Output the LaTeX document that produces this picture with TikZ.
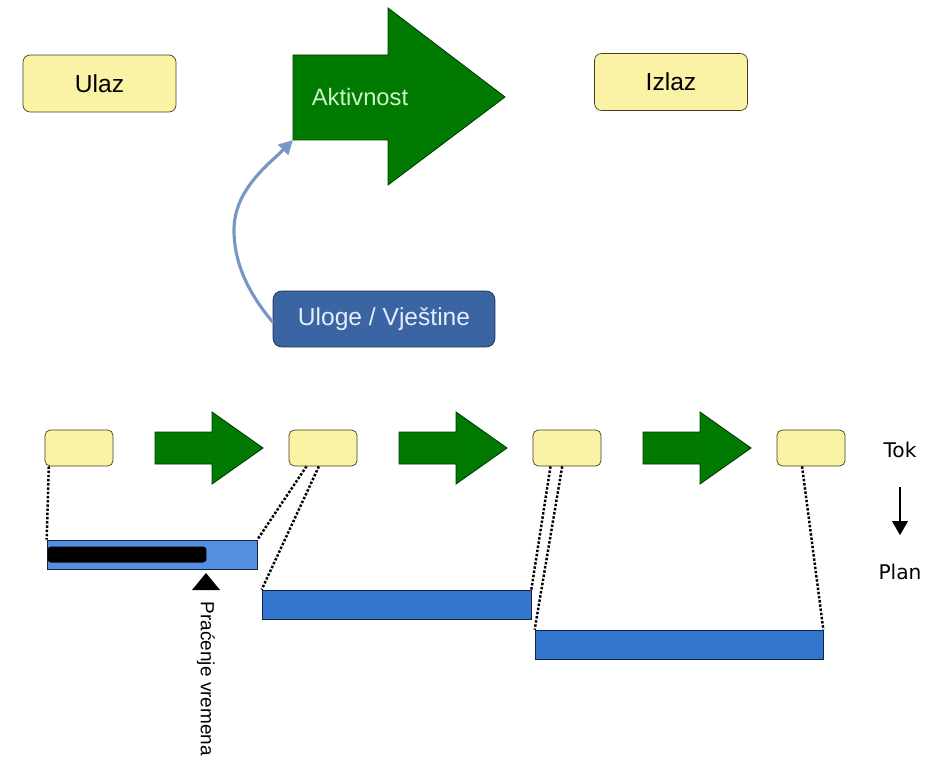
\documentclass[tikz,border=0pt]{standalone}
\usepackage{fontspec}
\setmainfont{Liberation Sans}
\newfontfamily\verdfont{DejaVu Sans}
\usetikzlibrary{arrows.meta,calc}

\definecolor{boxyellow}{RGB}{250,242,165}
\definecolor{boxedge}{RGB}{70,60,30}
\definecolor{actgreen}{RGB}{0,122,0}
\definecolor{actedge}{RGB}{0,60,0}
\definecolor{acttext}{RGB}{205,245,200}
\definecolor{roleblue}{RGB}{58,100,162}
\definecolor{roleedge}{RGB}{25,45,80}
\definecolor{roletext}{RGB}{228,238,252}
\definecolor{curveblue}{RGB}{120,152,195}
\definecolor{planlight}{RGB}{85,142,222}
\definecolor{planblue}{RGB}{50,117,205}
\definecolor{planedge}{RGB}{20,35,70}

\tikzset{
  bigbox/.style={draw=boxedge, fill=boxyellow, rounded corners=4pt, minimum width=3.06cm, minimum height=1.14cm, font=\fontsize{14}{16}\selectfont},
  smallbox/.style={draw=boxedge, fill=boxyellow, rounded corners=3pt, minimum width=1.36cm, minimum height=0.72cm},
  rolebox/.style={draw=roleedge, fill=roleblue, text=roletext, rounded corners=5pt, minimum width=4.44cm, minimum height=1.12cm, font=\fontsize{14}{16}\selectfont},
  flow/.style={fill=actgreen, draw=actedge, line width=0.5pt},
  planbar/.style={draw=planedge, fill=planblue, minimum height=0.58cm, inner sep=0pt},
  link/.style={densely dotted, line width=1.4pt},
  sidetext/.style={font=\verdfont\fontsize{11.5}{13}\selectfont},
}

\begin{document}
\begin{tikzpicture}[x=0.02cm, y=-0.02cm]
    \useasboundingbox (0,0) rectangle (932,760);

    % top part
    \node[bigbox] (ulaz) at (99.5,83.5) {Ulaz};
    \node[bigbox] (izlaz) at (671,82) {Izlaz};

    \draw[flow] (293,55) -- (388,55) -- (388,8) -- (505,97) -- (388,185) -- (388,140) -- (293,140) -- cycle;
    \coordinate (aktin) at (293,140);
    \node[text=acttext, font=\fontsize{13.5}{16}\selectfont] (akt) at (360,97) {Aktivnost};

    \node[rolebox] (uloge) at (384,319) {Uloge / Vještine};
    \draw[curveblue, line width=1.8pt, -{Triangle[length=8pt,width=8pt]}]
        ($(uloge.west)+(0,3)$) .. controls (250,295) and (234,265) .. (234,230)
        .. controls (234,190) and (268,165) .. (aktin);

    % flow row
    \foreach \i in {0,...,3}
        \node[smallbox] (b\i) at ({79+244*\i},448) {};
    \foreach \i in {0,1,2}
        \draw[flow] ({155+244*\i},432) -- ++(57,0) -- ++(0,-20) -- ++(51,36) -- ++(-51,36) -- ++(0,-20) -- ++(-57,0) -- cycle;

    % plan bars
    \node[planbar, fill=planlight, minimum width=4.2cm] (bar1) at (152,554.5) {};
    \node[planbar, minimum width=5.38cm] (bar2) at (396.5,604.5) {};
    \node[planbar, minimum width=5.76cm] (bar3) at (679,644.5) {};

    \node[fill=black, rounded corners=2pt, minimum width=3.18cm, minimum height=0.32cm, inner sep=0pt, anchor=west] (done) at ($(bar1.west)+(0.5,0)$) {};

    \foreach \src/\pos/\dst in {b0/0.06/bar1.north west, b1/0.26/bar1.north east, b1/0.44/bar2.north west,
                                b2/0.26/bar2.north east, b2/0.43/bar3.north west, b3/0.37/bar3.north east}
        \draw[link] ($(\src.south west)!\pos!(\src.south east)$) -- (\dst);

    % time tracking
    \fill (206,573) -- (220,590) -- (192,590) -- cycle;
    \node[rotate=-90, anchor=west, inner sep=2pt, font=\fontsize{10.8}{13}\selectfont] (track) at (206,598) {Praćenje vremena};

    \node[sidetext] (tok) at (900,450) {Tok};
    \node[sidetext] (plan) at (900,572) {Plan};
    \draw[line width=0.6pt, -{Triangle[length=8pt,width=9pt]}, shorten <=13pt, shorten >=13pt] (tok.south) -- (plan.north);
\end{tikzpicture}
\end{document}
